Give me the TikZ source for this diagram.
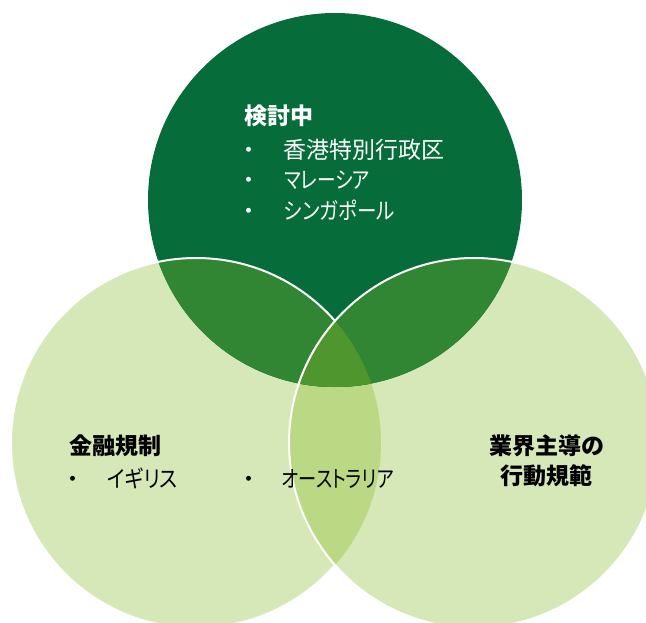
\documentclass[tikz,border=0pt]{standalone}
\usepackage{graphicx}
\usepackage{fontspec}
\newfontfamily\jp{Noto Sans CJK JP}
\newfontfamily\jpp[RawFeature=+palt]{Noto Sans CJK JP}
\newcommand\narrowkana[2]{\scalebox{#1}[1]{#2}}
\definecolor{cdark}{RGB}{6,108,58}
\definecolor{cmid}{RGB}{49,134,52}
\definecolor{ctriple}{RGB}{78,150,45}
\definecolor{clight}{RGB}{214,231,184}
\definecolor{clens}{RGB}{187,216,132}
\begin{document}
\begin{tikzpicture}[x=1pt,y=-1pt,
  lbl/.style={inner sep=0pt, font=\jp\fontsize{23}{27}\selectfont},
  kana/.style={inner sep=0pt, font=\jpp\fontsize{23}{27}\selectfont},
  head/.style={lbl, font=\jp\bfseries\fontsize{23}{27}\selectfont},
  outline/.style={draw=white, line width=2pt}]
\useasboundingbox (0,0) rectangle (646,623);
\coordinate (T) at (335,200);
\coordinate (L) at (196,443);
\coordinate (R) at (474,443);
% side circles
\fill[clight] (L) circle[radius=185pt];
\fill[clight] (R) circle[radius=185pt];
\begin{scope}
  \clip (L) circle[radius=185pt];
  \fill[clens] (R) circle[radius=185pt];
\end{scope}
% top circle
\fill[cdark] (T) circle[radius=187pt];
\begin{scope}
  \clip (T) circle[radius=187pt];
  \fill[cmid] (L) circle[radius=185pt];
  \fill[cmid] (R) circle[radius=185pt];
  \clip (L) circle[radius=185pt];
  \fill[ctriple] (R) circle[radius=185pt];
\end{scope}
% white outlines
\begin{scope}[even odd rule]
  \clip (-20,-20) rectangle (680,660) (R) circle[radius=185pt];
  \draw[outline] (L) circle[radius=185pt];
\end{scope}
\draw[outline] (R) circle[radius=185pt];
% top texts
\node[head, text=white, anchor=base west] (h1) at (244,125) {検討中};
\node[lbl, text=white, anchor=base west] (b1) at (237,159) {・};
\node[lbl, text=white, anchor=base west] (t1) at (283,159) {香港特別行政区};
\node[lbl, text=white, anchor=base west] (b2) at (237,189) {・};
\node[kana, text=white, anchor=base west] (t2) at (284,189) {\narrowkana{0.81}{マレーシア}};
\node[lbl, text=white, anchor=base west] (b3) at (237,219) {・};
\node[kana, text=white, anchor=base west] (t3) at (284,219) {\narrowkana{0.85}{シンガポール}};
% left texts
\node[head, anchor=base west] (h2) at (69,454) {金融規制};
\node[lbl, anchor=base west] (b4) at (61,487) {・};
\node[kana, anchor=base west] (t4) at (107,487) {\narrowkana{0.87}{イギリス}};
\node[lbl, anchor=base west] (b5) at (237,487) {・};
\node[kana, anchor=base west] (t5) at (282,487) {\narrowkana{0.79}{オーストラリア}};
% right texts
\node[head, anchor=base] (h3) at (547,454) {業界主導の};
\node[head, anchor=base] (h4) at (546,484) {行動規範};
\end{tikzpicture}
\end{document}
